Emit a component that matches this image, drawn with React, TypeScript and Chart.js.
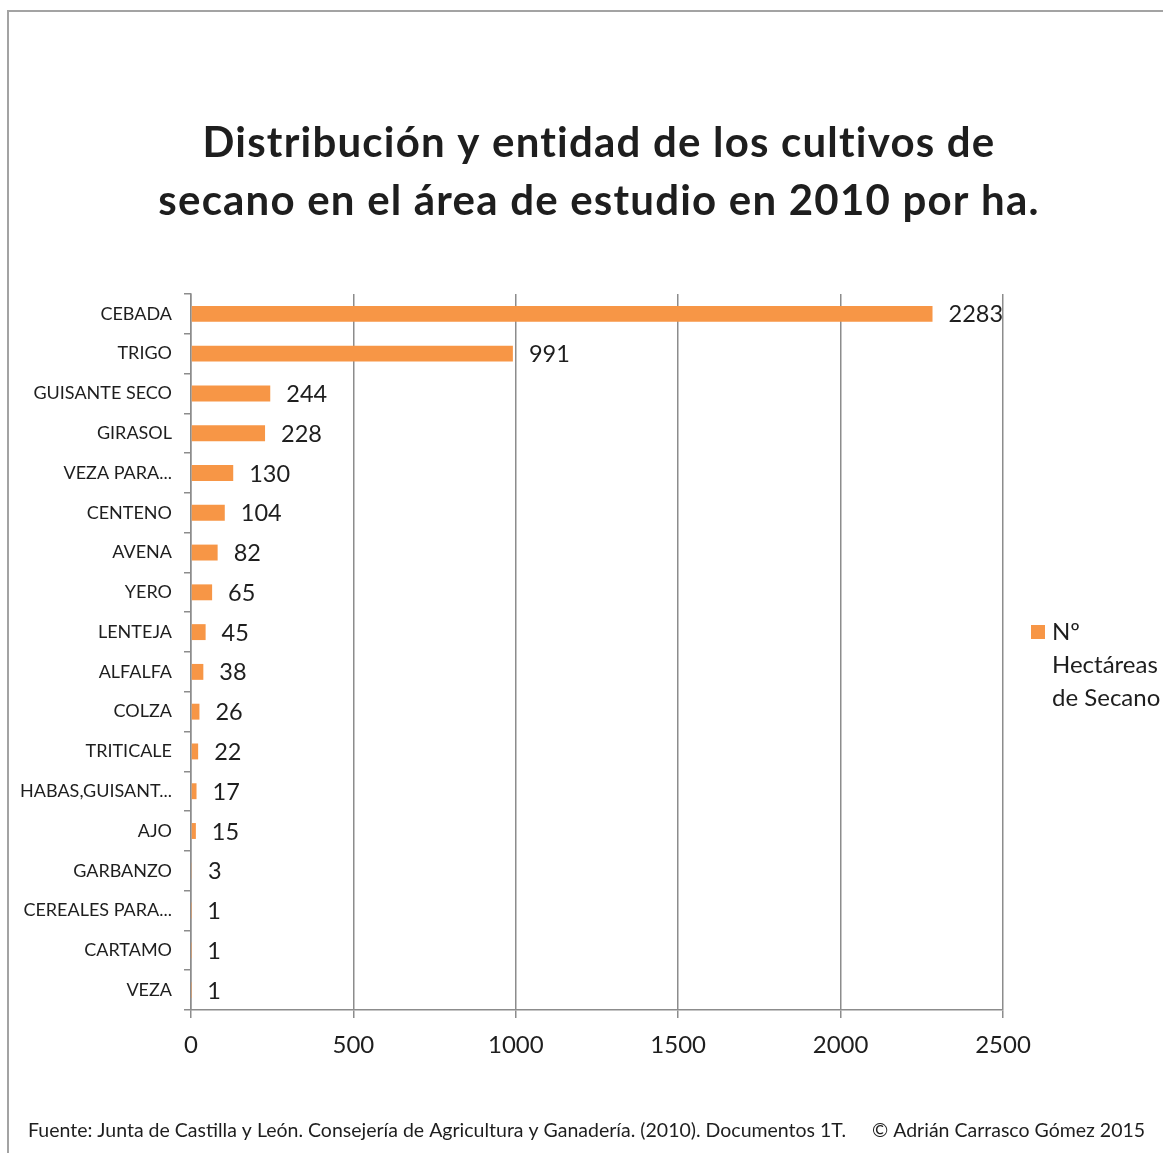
import React, { useEffect, useRef } from "react";
import { Chart, registerables } from "chart.js";

Chart.register(...registerables);

const categories = [
  "CEBADA",
  "TRIGO",
  "GUISANTE SECO",
  "GIRASOL",
  "VEZA PARA...",
  "CENTENO",
  "AVENA",
  "YERO",
  "LENTEJA",
  "ALFALFA",
  "COLZA",
  "TRITICALE",
  "HABAS,GUISANT...",
  "AJO",
  "GARBANZO",
  "CEREALES PARA...",
  "CARTAMO",
  "VEZA",
];
const hectareas = [2283, 991, 244, 228, 130, 104, 82, 65, 45, 38, 26, 22, 17, 15, 3, 1, 1, 1];
const seriesName = ["Nº", "Hectáreas", "de Secano"];
const titleLines = [
  "Distribución y entidad de los cultivos de",
  "secano en el área de estudio en 2010 por ha.",
];
const sourceText =
  "Fuente: Junta de Castilla y León. Consejería de Agricultura y Ganadería. (2010). Documentos 1T.";
const copyrightText = "© Adrián Carrasco Gómez 2015";
const xTickMax = 2500;
const xTickStep = 500;

const W = 1163;
const H = 1153;
const FONT = "Lato, 'Open Sans', sans-serif";
const ORANGE = "#F79646";
const GRID = "#8C8C8C";
const TEXT = "#1E1E1E";

const decorPlugin = {
  id: "decor",
  beforeDraw(chart: any) {
    const ctx = chart.ctx;
    ctx.save();
    ctx.fillStyle = "#ffffff";
    ctx.fillRect(0, 0, W, H);
    ctx.strokeStyle = "#A3A3A3";
    ctx.lineWidth = 2;
    ctx.beginPath();
    ctx.moveTo(8, H);
    ctx.lineTo(8, 11);
    ctx.lineTo(W, 11);
    ctx.stroke();
    ctx.restore();
  },
  afterDraw(chart: any) {
    const ctx = chart.ctx;
    ctx.save();
    // title
    ctx.fillStyle = TEXT;
    ctx.font = `bold 42px ${FONT}`;
    ctx.textAlign = "center";
    ctx.textBaseline = "middle";
    ctx.letterSpacing = "1.2px";
    ctx.fillText(titleLines[0], 599, 143);
    ctx.fillText(titleLines[1], 599, 201);
    ctx.letterSpacing = "0px";
    // legend
    ctx.fillStyle = ORANGE;
    ctx.fillRect(1031, 625, 14, 14);
    ctx.fillStyle = TEXT;
    ctx.font = `24px ${FONT}`;
    ctx.textAlign = "left";
    seriesName.forEach((t, i) => ctx.fillText(t, 1052, 632 + i * 33));
    // footer
    ctx.font = `19.5px ${FONT}`;
    ctx.fillText(sourceText, 28, 1131);
    ctx.fillText(copyrightText, 872, 1131);
    ctx.restore();
  },
  afterDatasetsDraw(chart: any) {
    const ctx = chart.ctx;
    const meta = chart.getDatasetMeta(0);
    ctx.save();
    ctx.fillStyle = TEXT;
    ctx.font = `23.5px ${FONT}`;
    ctx.textAlign = "left";
    ctx.textBaseline = "middle";
    meta.data.forEach((bar: any, i: number) => {
      ctx.fillText(String(hectareas[i]), bar.x + 16, bar.y + 1);
    });
    ctx.restore();
  },
};

export default function App() {
  const ref = useRef<HTMLCanvasElement | null>(null);
  useEffect(() => {
    document.body.style.margin = "0";
    if (!ref.current) return;
    const chart = new Chart(ref.current, {
      type: "bar",
      data: {
        labels: categories,
        datasets: [
          {
            label: seriesName.join(" "),
            data: hectareas,
            backgroundColor: ORANGE,
            borderWidth: 0,
            categoryPercentage: 1,
            barPercentage: 0.4,
          },
        ],
      },
      options: {
        indexAxis: "y",
        responsive: false,
        animation: false,
        devicePixelRatio: 1,
        layout: { padding: { top: 294, right: 160, bottom: 0, left: 0 } },
        plugins: {
          legend: { display: false },
          title: { display: false },
          tooltip: { enabled: false },
        },
        scales: {
          x: {
            min: 0,
            max: xTickMax,
            ticks: {
              stepSize: xTickStep,
              color: TEXT,
              font: { family: FONT, size: 24 },
              padding: 13,
              maxRotation: 0,
              callback: (v: any) => String(v),
            },
            grid: { color: GRID, lineWidth: 1.5, tickLength: 8 },
            border: { color: GRID, width: 1.5 },
            afterFit(scale: any) {
              scale.height = H - 1010;
            },
          },
          y: {
            ticks: {
              color: TEXT,
              font: { family: FONT, size: 18 },
              padding: 12,
              autoSkip: false,
            },
            grid: {
              drawOnChartArea: false,
              color: GRID,
              lineWidth: 1.5,
              tickLength: 7,
              offset: true,
            },
            border: { color: GRID, width: 1.5 },
            afterFit(scale: any) {
              scale.width = 191;
            },
          },
        },
      },
      plugins: [decorPlugin],
    });
    return () => chart.destroy();
  }, []);
  return <canvas ref={ref} width={W} height={H} style={{ display: "block", width: W, height: H }} />;
}
